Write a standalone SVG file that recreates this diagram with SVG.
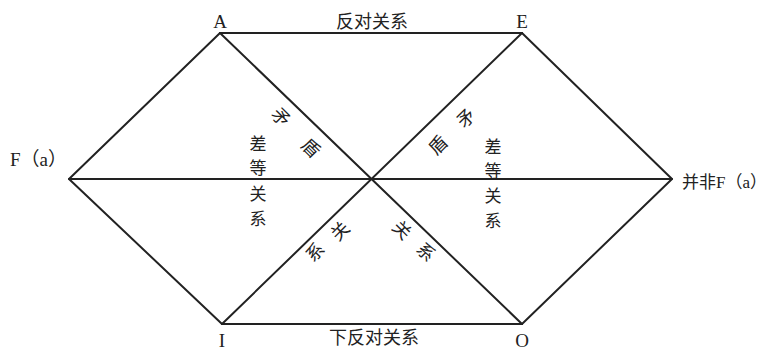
<svg xmlns="http://www.w3.org/2000/svg" width="776" height="350" viewBox="0 0 776 350">
<style>
.ln{stroke:#222;stroke-width:2;fill:none;stroke-linecap:round;stroke-linejoin:round}
.t{font-family:"Liberation Serif","Noto Sans CJK SC",serif;fill:#222;font-size:19px}
.c{font-family:"Noto Sans CJK SC","Liberation Serif",serif;fill:#222;font-size:18px;text-anchor:middle;dominant-baseline:central}
.v{font-size:17px}
.m{text-anchor:middle}
</style>
<rect width="776" height="350" fill="#fff"/>
<g id="connectors">
<path class="ln" d="M220,33 L522,33"/>
<path class="ln" d="M222,324 L522,324"/>
<path class="ln" d="M220,33 L69,179 L222,324"/>
<path class="ln" d="M522,33 L672,179 L522,324"/>
<path class="ln" d="M220,33 L522,324"/>
<path class="ln" d="M522,33 L222,324"/>
<path class="ln" d="M69,179 L672,179"/>
</g>
<g id="node-A"><text class="t m" x="220" y="28">A</text></g>
<g id="node-E"><text class="t m" x="522" y="28">E</text></g>
<g id="node-I"><text class="t m" x="222" y="347">I</text></g>
<g id="node-O"><text class="t m" x="522" y="347">O</text></g>
<g id="node-F"><text class="t" x="10" y="166">F（a）</text></g>
<g id="node-notF"><text class="t" x="682" y="188" style="font-size:17px">并非F（a）</text></g>
<g id="label-contrary"><text class="c" x="372" y="20">反对关系</text></g>
<g id="label-subcontrary"><text class="c" x="374" y="336">下反对关系</text></g>
<g id="label-contradiction-left">
<text class="c" x="282" y="116" transform="rotate(45 282 116)">矛</text>
<text class="c" x="312" y="147" transform="rotate(45 312 147)">盾</text>
</g>
<g id="label-contradiction-right">
<text class="c" x="465" y="117" transform="rotate(-45 465 117)">矛</text>
<text class="c" x="437" y="144" transform="rotate(-45 437 144)">盾</text>
</g>
<g id="label-subaltern-left">
<text class="c v" x="258" y="142">差</text>
<text class="c v" x="258" y="166">等</text>
<text class="c v" x="258" y="192">关</text>
<text class="c v" x="258" y="217">系</text>
</g>
<g id="label-subaltern-right">
<text class="c v" x="493" y="145">差</text>
<text class="c v" x="493" y="169">等</text>
<text class="c v" x="493" y="194">关</text>
<text class="c v" x="493" y="219">系</text>
</g>
<g id="label-bottom-left">
<text class="c" x="339" y="230" transform="rotate(-45 339 230)">关</text>
<text class="c" x="314" y="251" transform="rotate(-45 314 251)">系</text>
</g>
<g id="label-bottom-right">
<text class="c" x="403" y="229" transform="rotate(45 403 229)">关</text>
<text class="c" x="427" y="251" transform="rotate(45 427 251)">系</text>
</g>
</svg>
